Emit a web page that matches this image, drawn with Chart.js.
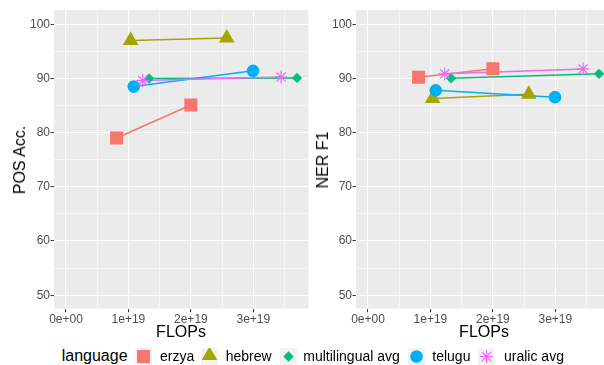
<!DOCTYPE html>
<html>
<head>
<meta charset="utf-8">
<script src="https://cdn.jsdelivr.net/npm/chart.js@4.4.1/dist/chart.umd.min.js"></script>
<style>
  html, body { margin:0; padding:0; background:#fff; width:604px; height:365px; overflow:hidden; position:relative;
    font-family:"Liberation Sans", Arial, Helvetica, sans-serif; }
  .panel { position:absolute; top:0; width:310px; height:340px; }
  .panel canvas { display:block; }
  .t { position:absolute; white-space:nowrap; color:#000; line-height:1; }
  .axt { font-size:16px; transform:translate(-50%,-50%); }
  .axr { font-size:16px; transform:translate(-50%,-50%) rotate(-90deg); }
  .lt { font-size:16px; transform:translateY(-50%); }
  .ll { font-size:14px; transform:translateY(-50%); }
  .key { position:absolute; top:348px; width:17px; height:17px; background:#F2F2F2; }
  .key svg { display:block; }
</style>
</head>
<body>
<div class="panel" id="p1"><canvas id="c1" width="310" height="340" style="width:310px;height:340px"></canvas></div>
<div class="panel" id="p2" style="left:302px"><canvas id="c2" width="310" height="340" style="width:310px;height:340px"></canvas></div>

<div class="t axr" style="left:20px;top:160px">POS Acc.</div>
<div class="t axr" style="left:322.5px;top:160px">NER F1</div>
<div class="t axt" style="left:181px;top:331.5px">FLOPs</div>
<div class="t axt" style="left:484px;top:331.5px">FLOPs</div>

<div id="legend"></div>

<script>
// ---------- data ----------
const languages = ['erzya', 'hebrew', 'multilingual avg', 'telugu', 'uralic avg'];

const erzyaFlops        = [0.81e19, 2.00e19];
const hebrewFlops       = [1.035e19, 2.575e19];
const multilingualFlops = [1.33e19, 3.70e19];
const teluguFlops       = [1.085e19, 2.995e19];
const uralicFlops       = [1.23e19, 3.445e19];

const erzyaPOS        = [79.0, 85.1];
const hebrewPOS       = [97.0, 97.45];
const multilingualPOS = [90.0, 90.1];
const teluguPOS       = [88.5, 91.4];
const uralicPOS       = [89.6, 90.25];

const erzyaNER        = [90.2, 91.8];
const hebrewNER       = [86.3, 87.1];
const multilingualNER = [90.05, 90.85];
const teluguNER       = [87.8, 86.55];
const uralicNER       = [90.85, 91.75];

const xTickValues = [0, 1e19, 2e19, 3e19];
const xTickLabels = ['0e+00', '1e+19', '2e+19', '3e+19'];
const xMinorValues = [0.5e19, 1.5e19, 2.5e19, 3.5e19];
const yTickValues = [50, 60, 70, 80, 90, 100];
const yTickLabels = ['50', '60', '70', '80', '90', '100'];
const yMinorValues = [55, 65, 75, 85, 95];

// ---------- style ----------
const FONT = '"Liberation Sans", Arial, Helvetica, sans-serif';
const colors = ['#F8766D', '#A3A500', '#00BF7D', '#00B0F6', '#E76BF3'];
const shapes = ['rect', 'triangle', 'rectRot', 'circle', 'star'];
const radii  = [9.2, 9, 5.2, 6.3, 6.5];

const flopsBy = [erzyaFlops, hebrewFlops, multilingualFlops, teluguFlops, uralicFlops];
const posBy   = [erzyaPOS, hebrewPOS, multilingualPOS, teluguPOS, uralicPOS];
const nerBy   = [erzyaNER, hebrewNER, multilingualNER, teluguNER, uralicNER];

const X_MIN = -0.1922e19, X_MAX = 3.884e19;
const Y_MIN = 47.55, Y_MAX = 102.63;

const panelBg = {
  id: 'panelBg',
  beforeDraw(chart) {
    const { ctx, chartArea: a } = chart;
    ctx.save();
    ctx.fillStyle = '#EBEBEB';
    ctx.fillRect(a.left, a.top, a.right - a.left, a.bottom - a.top);
    ctx.restore();
  }
};

function buildDatasets(valuesBy) {
  const ds = [];
  languages.forEach((lang, i) => {
    const pts = flopsBy[i].map((x, k) => ({ x: x, y: valuesBy[i][k] }));
    ds.push({
      label: lang + ' line', data: pts, showLine: true, pointRadius: 0, pointHoverRadius: 0,
      borderColor: colors[i], borderWidth: 1.5, fill: false, order: 10 + (4 - i)
    });
    ds.push({
      label: lang, data: pts, showLine: false, pointStyle: shapes[i], pointRadius: radii[i], pointHoverRadius: radii[i],
      backgroundColor: colors[i], borderColor: colors[i], pointBorderWidth: shapes[i] === 'star' ? 1.2 : 0,
      order: 4 - i
    });
  });
  return ds;
}

function labelFor(values, labels, v) {
  const i = values.findIndex(t => Math.abs(t - v) <= Math.abs(t) * 1e-9 + 1e-9);
  return i >= 0 ? labels[i] : '';
}

function makeChart(id, valuesBy) {
  const gridLW = ctx => (ctx.tick && ctx.tick.isMaj) ? 1.1 : 0.55;
  const tickC = ctx => (ctx.tick && ctx.tick.isMaj) ? '#333333' : 'rgba(0,0,0,0)';
  return new Chart(document.getElementById(id), {
    type: 'scatter',
    data: { datasets: buildDatasets(valuesBy) },
    plugins: [panelBg],
    options: {
      responsive: false, animation: false, devicePixelRatio: 1,
      layout: { autoPadding: false, padding: { top: 10, left: 0, right: 1.5, bottom: 0 } },
      plugins: { legend: { display: false }, tooltip: { enabled: false } },
      scales: {
        x: {
          type: 'linear', min: X_MIN, max: X_MAX, bounds: 'data',
          afterBuildTicks(s) {
            const all = xTickValues.map(v => ({ value: v, isMaj: true }))
              .concat(xMinorValues.map(v => ({ value: v, isMaj: false })));
            all.sort((a, b) => a.value - b.value);
            s.ticks = all;
          },
          afterFit(s) { s.height = 31.5; s.paddingLeft = 0; s.paddingRight = 0; s.paddingTop = 0; s.paddingBottom = 0; },
          ticks: {
            autoSkip: false, maxRotation: 0, padding: 0, color: '#4D4D4D',
            font: { family: FONT, size: 12 },
            callback: v => labelFor(xTickValues, xTickLabels, v)
          },
          grid: { color: '#FFFFFF', lineWidth: gridLW, tickColor: tickC, tickLength: 3.7, tickWidth: 1 },
          border: { display: false }
        },
        y: {
          type: 'linear', min: Y_MIN, max: Y_MAX, bounds: 'data',
          afterBuildTicks(s) {
            const all = yTickValues.map(v => ({ value: v, isMaj: true }))
              .concat(yMinorValues.map(v => ({ value: v, isMaj: false })));
            all.sort((a, b) => a.value - b.value);
            s.ticks = all;
          },
          afterFit(s) { s.width = 54; s.paddingLeft = 0; s.paddingRight = 0; s.paddingTop = 0; s.paddingBottom = 0; },
          ticks: {
            autoSkip: false, padding: 0.5, color: '#4D4D4D',
            font: { family: FONT, size: 12 },
            callback: v => labelFor(yTickValues, yTickLabels, v)
          },
          grid: { color: '#FFFFFF', lineWidth: gridLW, tickColor: tickC, tickLength: 3.5, tickWidth: 1 },
          border: { display: false }
        }
      }
    }
  });
}

makeChart('c1', posBy);
makeChart('c2', nerBy);

// ---------- legend ----------
function markerSvg(shape, color, r) {
  const c = 8.5;
  let body = '';
  if (shape === 'rect') {
    const h = r * Math.SQRT1_2;
    body = `<rect x="${c - h}" y="${c - h}" width="${2 * h}" height="${2 * h}" fill="${color}"/>`;
  } else if (shape === 'triangle') {
    const p = [[c, c - r], [c + r * Math.sin(Math.PI / 3), c + r / 2], [c - r * Math.sin(Math.PI / 3), c + r / 2]];
    body = `<polygon points="${p.map(q => q.join(',')).join(' ')}" fill="${color}" transform="translate(0,-1)"/>`;
  } else if (shape === 'rectRot') {
    body = `<polygon points="${c},${c - r} ${c + r},${c} ${c},${c + r} ${c - r},${c}" fill="${color}"/>`;
  } else if (shape === 'circle') {
    body = `<circle cx="${c}" cy="${c}" r="${r}" fill="${color}"/>`;
  } else {
    const d = r * Math.SQRT1_2;
    body = `<g stroke="${color}" stroke-width="1.2">
      <line x1="${c - r}" y1="${c}" x2="${c + r}" y2="${c}"/><line x1="${c}" y1="${c - r}" x2="${c}" y2="${c + r}"/>
      <line x1="${c - d}" y1="${c - d}" x2="${c + d}" y2="${c + d}"/><line x1="${c - d}" y1="${c + d}" x2="${c + d}" y2="${c - d}"/></g>`;
  }
  return `<svg width="17" height="17" viewBox="0 0 17 17">${body}</svg>`;
}

const keyLefts = [135, 201, 280, 408, 478];
const labelLefts = [160, 225.7, 303.3, 432.3, 504];
const legend = document.getElementById('legend');
let html = '<div class="t lt" style="left:61.7px;top:355.5px">language</div>';
languages.forEach((lang, i) => {
  html += `<div class="key" style="left:${keyLefts[i]}px">${markerSvg(shapes[i], colors[i], radii[i])}</div>`;
  html += `<div class="t ll" style="left:${labelLefts[i]}px;top:355.5px">${lang}</div>`;
});
legend.innerHTML = html;
</script>
</body>
</html>
